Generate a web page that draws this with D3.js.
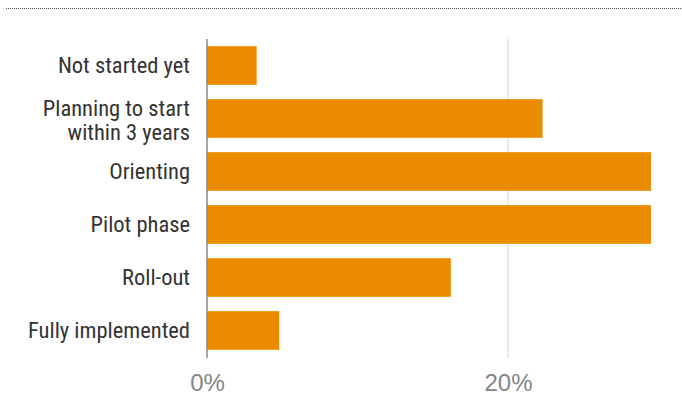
<!DOCTYPE html>
<html>
<head>
<meta charset="utf-8">
<script src="https://cdn.jsdelivr.net/npm/d3@7"></script>
<style>
  html, body { margin: 0; padding: 0; background: #fff; }
  svg { display: block; }
</style>
</head>
<body>
<svg id="chart" width="682" height="418"></svg>
<script>
// Implementation stages and share of respondents (%)
const stages = [
  ["Not started yet"],
  ["Planning to start", "within 3 years"],
  ["Orienting"],
  ["Pilot phase"],
  ["Roll-out"],
  ["Fully implemented"]
];
const shares = [3.3, 22.3, 29.5, 29.5, 16.2, 4.8];
const tickValues = [0, 20];
const tickLabels = ["0%", "20%"];

(function draw() {
  const svg = d3.select("#chart");
  const W = 682;
  const plotLeft = 207, plotTop = 39, plotBottom = 357;

  const ids = stages.map((d, i) => i);

  const x = d3.scaleLinear().domain([0, 30]).range([plotLeft, plotLeft + 451.5]);
  const y = d3.scaleBand().domain(ids).range([plotTop, plotBottom])
    .paddingInner(0.27).paddingOuter(0.135);

  // dotted rule across the top
  svg.append("line")
    .attr("x1", 6).attr("x2", W).attr("y1", 8.5).attr("y2", 8.5)
    .attr("stroke", "#555").attr("stroke-width", 1)
    .attr("stroke-dasharray", "1,1");

  // vertical gridlines
  svg.append("g")
    .selectAll("line")
    .data(tickValues.filter(v => v > 0))
    .join("line")
    .attr("x1", d => x(d)).attr("x2", d => x(d))
    .attr("y1", plotTop).attr("y2", plotBottom + 1)
    .attr("stroke", "#e3e3e3").attr("stroke-width", 1.5);

  // bars
  svg.append("g")
    .selectAll("rect")
    .data(shares)
    .join("rect")
    .attr("x", x(0))
    .attr("y", (d, i) => y(i))
    .attr("width", d => x(d) - x(0))
    .attr("height", y.bandwidth())
    .attr("fill", "#EB8C00");

  // baseline axis
  svg.append("line")
    .attr("x1", x(0)).attr("x2", x(0))
    .attr("y1", plotTop).attr("y2", plotBottom + 1)
    .attr("stroke", "#888").attr("stroke-width", 1.5);

  // category labels, one text element per line
  const labelFont = "'Roboto Condensed', 'Liberation Sans Narrow', sans-serif";
  const lineH = 24;
  const labelLines = [];
  stages.forEach((lines, i) => {
    const cy = y(i) + y.bandwidth() / 2;
    const start = cy - (lines.length - 1) * lineH / 2 + (lines.length > 1 ? 1.5 : 0);
    lines.forEach((t, j) => labelLines.push({ t, yy: start + j * lineH }));
  });
  svg.append("g")
    .selectAll("text")
    .data(labelLines)
    .join("text")
    .attr("text-anchor", "end")
    .attr("font-family", labelFont)
    .attr("font-size", 22.5)
    .attr("fill", "#333")
    .attr("x", 190)
    .attr("y", d => d.yy)
    .attr("dy", "0.35em")
    .text(d => d.t);

  // x-axis tick labels
  const axis = d3.axisBottom(x)
    .tickValues(tickValues)
    .tickFormat((d, i) => tickLabels[i])
    .tickSize(0)
    .tickPadding(0);

  const gx = svg.append("g")
    .attr("transform", "translate(0,374)")
    .call(axis);
  gx.select(".domain").remove();
  gx.selectAll("text")
    .attr("font-family", "'Liberation Sans', Arial, sans-serif")
    .attr("font-size", 24)
    .attr("fill", "#858585")
    .attr("dy", "0.71em");
})();
</script>
</body>
</html>
